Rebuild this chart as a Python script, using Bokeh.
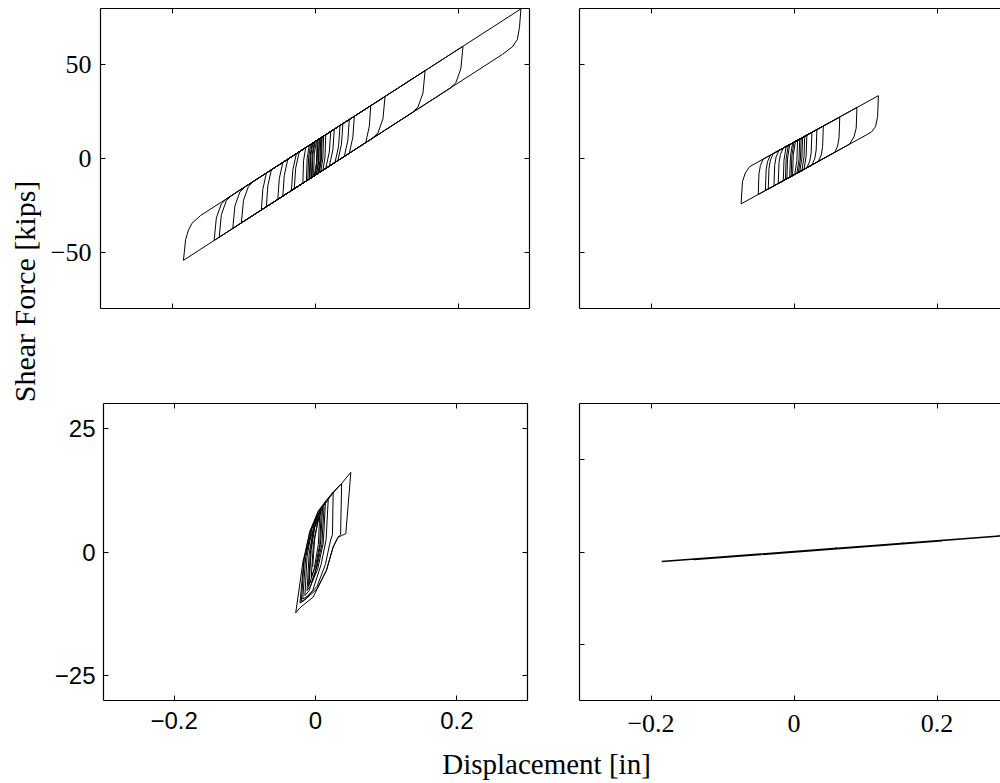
import math
from bokeh.plotting import figure
from bokeh.models import LinearAxis, FixedTicker, Range1d, Label
from bokeh.layouts import row, column
from bokeh.embed import file_html
from bokeh.resources import INLINE

SERIF = "Liberation Serif"
SANS = "Liberation Sans"

# ---------------- data ----------------
# Top-left panel: force-displacement trace (in, kips)
tl_x = [0.000,
        0.006, 0.005, 0.002, -0.005, -0.004, -0.001,
        0.010, 0.009, 0.006, -0.010, -0.009, -0.006,
        0.015, 0.014, 0.011, -0.017, -0.016, -0.013,
        0.022, 0.020, 0.015, -0.008, -0.007, -0.004,
        0.004, 0.003, 0.000, -0.029, -0.027, -0.022,
        0.035, 0.033, 0.028, -0.045, -0.043, -0.038,
        0.055, 0.053, 0.048, -0.068, -0.066, -0.061,
        0.098, 0.095, 0.088, 0.080, -0.115, -0.112, -0.105, -0.097,
        0.078, 0.076, 0.071, -0.184, -0.181, -0.177, -0.172, -0.160,
        0.288, 0.286, 0.283, 0.276, 0.262, -0.141, -0.138, -0.131, -0.123,
        0.207, 0.204, 0.197, 0.189, -0.134, -0.131, -0.124, -0.116,
        0.154, 0.151, 0.144, 0.136, -0.103, -0.100, -0.093, -0.085,
        0.048, 0.046, 0.041, -0.075, -0.073, -0.068,
        0.039, 0.037, 0.032, -0.052, -0.050, -0.045,
        0.027, 0.025, 0.020, -0.033, -0.031, -0.026,
        0.012, 0.011, 0.008, -0.012, -0.011, -0.008,
        0.008, 0.007, 0.004, -0.004, -0.003, 0.000,
        0.006, 0.005, 0.002, -0.002, -0.001, 0.002,
        0.009, 0.008, 0.005, -0.007, -0.006, -0.003,
        0.003, 0.002, -0.001]
tl_y = [9.0,
        10.5, -1.5, -8.5, -10.2, 1.8, 8.8,
        11.5, -0.5, -7.5, -11.5, 0.5, 7.5,
        12.7, 0.7, -6.3, -13.2, -1.2, 5.8,
        14.4, 3.4, -5.3, -11.0, 1.0, 8.0,
        10.0, -2.0, -9.0, -16.1, -5.1, 3.6,
        17.6, 6.6, -2.1, -20.1, -9.1, -0.3,
        22.5, 11.5, 2.8, -25.7, -14.7, -6.0,
        33.1, 21.1, 13.6, 10.7, -37.3, -25.3, -17.8, -14.9,
        28.2, 17.2, 8.5, -54.3, -43.3, -38.2, -34.5, -30.4,
        79.8, 70.0, 63.5, 59.5, 55.5, -43.7, -31.7, -24.2, -21.3,
        59.9, 47.9, 40.4, 37.5, -42.0, -30.0, -22.5, -19.5,
        46.9, 34.9, 27.4, 24.5, -34.3, -22.3, -14.8, -11.9,
        20.8, 9.8, 1.1, -27.5, -16.5, -7.7,
        18.6, 7.6, -1.1, -21.8, -10.8, -2.1,
        15.6, 4.6, -4.1, -17.1, -6.1, 2.6,
        12.0, 0.0, -7.0, -12.0, 0.0, 7.0,
        11.0, -1.0, -8.0, -10.0, 2.0, 9.0,
        10.5, -1.5, -8.5, -9.5, 2.5, 9.5,
        11.2, -0.8, -7.8, -10.7, 1.3, 8.3,
        9.7, -2.3, -9.2]

# Top-right panel
tr_x = [0.000,
        0.008, 0.007, 0.004, -0.006, -0.005, -0.002,
        0.012, 0.011, 0.008, -0.010, -0.009, -0.006,
        0.018, 0.017, 0.014, -0.015, -0.014, -0.011,
        0.025, 0.024, 0.022, 0.018, -0.022, -0.021, -0.019, -0.015,
        0.041, 0.040, 0.038, 0.034, -0.036, -0.035, -0.033, -0.029,
        0.064, 0.063, 0.061, 0.057, -0.050, -0.049, -0.047, -0.043,
        0.118, 0.117, 0.114, 0.108, -0.074, -0.072, -0.068, -0.062,
        0.088, 0.087, 0.084, 0.078, -0.040, -0.039, -0.037, -0.033,
        0.032, 0.031, 0.029, 0.025, -0.028, -0.027, -0.025, -0.021,
        0.015, 0.014, 0.011, -0.012, -0.011, -0.008,
        0.010, 0.009, 0.006, -0.004, -0.003, 0.000,
        0.005, 0.004, 0.001, -0.002, -0.001, 0.002,
        0.006]
tr_y = [8.7,
        10.4, -0.6, -7.9, -10.0, 1.0, 8.3,
        11.2, 0.2, -7.0, -10.8, 0.2, 7.4,
        12.5, 1.5, -5.8, -11.9, -0.9, 6.4,
        14.0, 3.0, -1.5, -4.9, -13.3, -2.3, 2.2, 5.6,
        17.3, 6.3, 1.8, -1.6, -16.3, -5.3, -0.8, 2.6,
        22.1, 11.1, 6.6, 3.3, -19.2, -8.2, -3.7, -0.3,
        33.5, 22.5, 17.0, 14.0, -24.2, -12.2, -7.7, -4.3,
        27.2, 16.2, 11.7, 7.7, -17.1, -6.1, -1.6, 1.8,
        15.4, 4.4, -0.1, -3.5, -14.6, -3.6, 0.9, 4.3,
        11.9, 0.9, -6.4, -11.2, -0.2, 7.0,
        10.8, -0.2, -7.4, -9.5, 1.5, 8.7,
        9.8, -1.2, -8.5, -9.1, 1.9, 9.1,
        10.0]

# Bottom-left panel
bl_x = [-0.004, -0.001, 0.003, 0.006,
        0.004, -0.002, -0.008, -0.010,
        -0.007, -0.002, 0.004, 0.010,
        0.007, 0.000, -0.009, -0.015,
        -0.012, -0.005, 0.004, 0.014,
        0.011, 0.003, -0.007, -0.012,
        -0.009, -0.002, 0.008, 0.018,
        0.015, 0.008, -0.004, -0.016, -0.022,
        -0.016, -0.008, 0.004, 0.015, 0.025,
        0.024, 0.021, 0.014, 0.002, -0.012, -0.018,
        -0.014, -0.006, 0.008, 0.024, 0.037,
        0.0355, 0.032, 0.025, 0.0155, -0.0034, -0.0222, -0.028,
        -0.0175, -0.0034, 0.0107, 0.0249, 0.0367, 0.050,
        0.0429, 0.0367, 0.0319, 0.0249, 0.0155, 0.002, -0.014, -0.020,
        -0.016, -0.008, 0.003, 0.012,
        0.009, 0.002, -0.005, -0.009,
        -0.006, -0.001, 0.008,
        0.006, 0.000, -0.006,
        -0.003, 0.004]
bl_y = [-3.0, 3.0, 6.0, 7.5,
        1.5, -3.5, -6.2, -7.0,
        0.5, 5.0, 7.5, 8.8,
        1.5, -4.0, -7.8, -8.8,
        -1.0, 4.8, 8.2, 9.8,
        1.8, -3.5, -6.8, -7.8,
        -0.5, 5.5, 8.9, 10.6,
        2.5, -2.5, -7.8, -9.8, -10.3,
        -1.0, 4.2, 8.3, 10.4, 12.1,
        3.5, 2.2, -2.5, -7.0, -9.0, -9.5,
        -1.2, 4.5, 8.8, 11.8, 13.8,
        3.5, 3.0, 1.0, -3.7, -9.1, -11.3, -12.3,
        -1.7, 4.4, 9.1, 12.1, 13.8, 16.1,
        3.7, 3.3, 3.0, 1.0, -3.7, -7.5, -9.5, -10.0,
        -1.5, 4.0, 7.5, 9.0,
        1.5, -3.0, -5.8, -6.5,
        0.5, 5.0, 8.0,
        1.5, -3.0, -5.0,
        1.5, 6.5]

# Bottom-right panel
br_x = [-0.185, 0.288, -0.140, 0.207, -0.115, 0.154, -0.050, 0.060, 0.000]
br_y = [-1.03, 1.72, -0.82, 1.22, -0.62, 0.95, -0.25, 0.40, 0.00]

# Axis ticks and labels
x_ticks = [-0.2, 0, 0.2]
x_tick_labels = ["\u22120.2", "0", "0.2"]
tl_y_ticks = [-50, 0, 50]
tl_y_tick_labels = ["\u221250", "0", "50"]
bl_y_ticks = [-25, 0, 25]
bl_y_tick_labels = ["\u221225", "0", "25"]
br_y_ticks = [-10, 0, 10]

x_label = "Displacement [in]"
y_label = "Shear Force [kips]"


def add_axis(p, side, ticks, labels=None, font=SERIF, size="24px", standoff=9, line=True):
    ax = LinearAxis(ticker=FixedTicker(ticks=ticks, minor_ticks=[]))
    ax.axis_line_color = "black" if line else None
    ax.axis_line_width = 1.2
    ax.major_tick_in = 5
    ax.major_tick_out = 0
    ax.minor_tick_in = 0
    ax.minor_tick_out = 0
    ax.major_tick_line_color = "black"
    ax.major_tick_line_width = 1
    if labels is not None:
        ax.major_label_overrides = dict(zip(ticks, labels))
        ax.major_label_text_font = font
        ax.major_label_text_font_size = size
        ax.major_label_text_color = "black"
        ax.major_label_standoff = standoff
    else:
        ax.major_label_overrides = {t: "" for t in ticks}
        ax.major_label_text_font_size = "0px"
        ax.major_label_standoff = 0
    p.add_layout(ax, side)
    return ax


def panel(width, height, borders, xr, yr):
    p = figure(width=width, height=height, x_range=Range1d(*xr), y_range=Range1d(*yr),
               output_backend="svg", toolbar_location=None,
               x_axis_location=None, y_axis_location=None)
    p.min_border_left, p.min_border_right, p.min_border_top, p.min_border_bottom = borders
    p.outline_line_color = None
    p.xgrid.visible = False
    p.ygrid.visible = False
    p.background_fill_color = "white"
    p.border_fill_color = "white"
    return p


LW = 1.0

# Top-left
tl = panel(509, 355, (55, 25, 8, 47), (-0.3, 0.3), (-80, 80))
add_axis(tl, "left", tl_y_ticks, tl_y_tick_labels, SERIF, "26px", 9)
add_axis(tl, "below", x_ticks)
add_axis(tl, "above", x_ticks)
add_axis(tl, "right", tl_y_ticks)
tl.line(tl_x, tl_y, line_color="black", line_width=LW)

# Top-right
tr = panel(446, 355, (25, 0, 8, 47), (-0.3, 0.2888), (-80, 80))
add_axis(tr, "left", tl_y_ticks)
add_axis(tr, "below", x_ticks)
add_axis(tr, "above", x_ticks)
tr.line(tr_x, tr_y, line_color="black", line_width=LW)

# Bottom-left
bl = panel(509, 391, (58, 27, 48, 46), (-0.3, 0.3), (-30, 30))
add_axis(bl, "left", bl_y_ticks, bl_y_tick_labels, SANS, "24px", 8)
add_axis(bl, "below", x_ticks, x_tick_labels, SANS, "24px", 11)
add_axis(bl, "above", x_ticks)
add_axis(bl, "right", bl_y_ticks)
bl.line(bl_x, bl_y, line_color="black", line_width=LW)

# Bottom-right
br = panel(446, 391, (25, 0, 48, 45), (-0.3, 0.2888), (-16, 16))
add_axis(br, "left", br_y_ticks)
add_axis(br, "below", x_ticks, x_tick_labels, SERIF, "26px", 14)
add_axis(br, "above", x_ticks)
br.line(br_x, br_y, line_color="black", line_width=1.5)


def label_fig(w, h):
    f = figure(width=w, height=h, x_range=Range1d(0, w), y_range=Range1d(0, h),
               output_backend="svg", toolbar_location=None,
               x_axis_location=None, y_axis_location=None)
    f.min_border_left = f.min_border_right = f.min_border_top = f.min_border_bottom = 0
    f.outline_line_color = None
    f.xgrid.visible = False
    f.ygrid.visible = False
    f.border_fill_color = "white"
    f.background_fill_color = "white"
    return f


ylf = label_fig(45, 783)
ylf.add_layout(Label(x=24, y=492, text=y_label, angle=math.pi / 2,
                     text_align="center", text_baseline="middle",
                     text_font=SERIF, text_font_size="30px", text_color="black"))

xlf = label_fig(955, 37)
xlf.add_layout(Label(x=501, y=20, text=x_label,
                     text_align="center", text_baseline="middle",
                     text_font=SERIF, text_font_size="29px", text_color="black"))

grid = column(row(tl, tr, spacing=0), row(bl, br, spacing=0), xlf, spacing=0)
layout = row(ylf, grid, spacing=0)

open("out.html", "w").write(file_html(layout, INLINE))
